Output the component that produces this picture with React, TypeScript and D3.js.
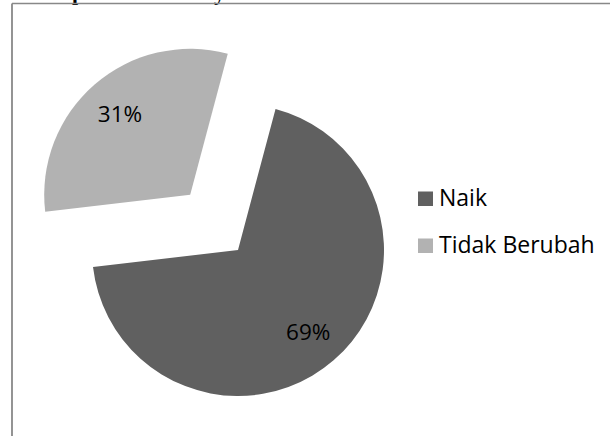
import React from "react";
import * as d3 from "d3";

const categories = ["Naik", "Tidak Berubah"];
const values = [69, 31];
const labels = ["69%", "31%"];
const colors = ["#606060", "#b2b2b2"];
const exploded = [false, true];

const W = 610;
const H = 436;

export default function App() {
  const cx = 238;
  const cy = 250;
  const r = 146;
  const startDeg = 14.9;
  const start = (startDeg * Math.PI) / 180;
  const pie = d3
    .pie<number>()
    .sort(null)
    .value((d) => d)
    .startAngle(start)
    .endAngle(start + 2 * Math.PI);
  const arcs = pie(values);
  const arc = d3.arc<d3.PieArcDatum<number>>().innerRadius(0).outerRadius(r);
  const labelArc = d3
    .arc<d3.PieArcDatum<number>>()
    .innerRadius(r * 0.735)
    .outerRadius(r * 0.735);
  const explodeDist = r * 0.5;
  const font = "'Open Sans', 'Noto Sans', sans-serif";

  return (
    <svg
      width={W}
      height={H}
      style={{ position: "fixed", left: 0, top: 0, background: "#fff" }}
    >
      <rect x={0} y={0} width={W} height={H} fill="#fff" />
      <text
        x={72}
        y={-0.5}
        fontFamily="'Liberation Serif', 'DejaVu Serif', serif"
        fontWeight="bold"
        fontSize={22}
        fill="#000"
      >
        p
      </text>
      <text
        x={214}
        y={-0.5}
        fontFamily="'Liberation Serif', 'DejaVu Serif', serif"
        fontWeight="bold"
        fontSize={22}
        fill="#000"
      >
        y
      </text>
      <line x1={12} y1={3.5} x2={W} y2={3.5} stroke="#888" strokeWidth={1.5} />
      <line x1={12} y1={3.5} x2={12} y2={H} stroke="#888" strokeWidth={1.8} />
      {arcs.map((a, i) => {
        const mid = (a.startAngle + a.endAngle) / 2;
        const dx = exploded[i] ? Math.sin(mid) * explodeDist : 0;
        const dy = exploded[i] ? -Math.cos(mid) * explodeDist : 0;
        const [lx, ly] = labelArc.centroid(a);
        return (
          <g key={categories[i]} transform={`translate(${cx + dx},${cy + dy})`}>
            <path d={arc(a) || ""} fill={colors[i]} />
            <text
              x={lx}
              y={ly}
              textAnchor="middle"
              dominantBaseline="central"
              fontFamily={font}
              fontSize={22.5}
              fill="#000"
            >
              {labels[i]}
            </text>
          </g>
        );
      })}
      {categories.map((c, i) => (
        <g key={c} transform={`translate(418,${191.5 + i * 47})`}>
          <rect x={0} y={0} width={15} height={14.5} fill={colors[i]} />
          <text
            x={21}
            y={14.5}
            fontFamily={font}
            fontSize={23}
            fill="#000"
          >
            {c}
          </text>
        </g>
      ))}
    </svg>
  );
}
